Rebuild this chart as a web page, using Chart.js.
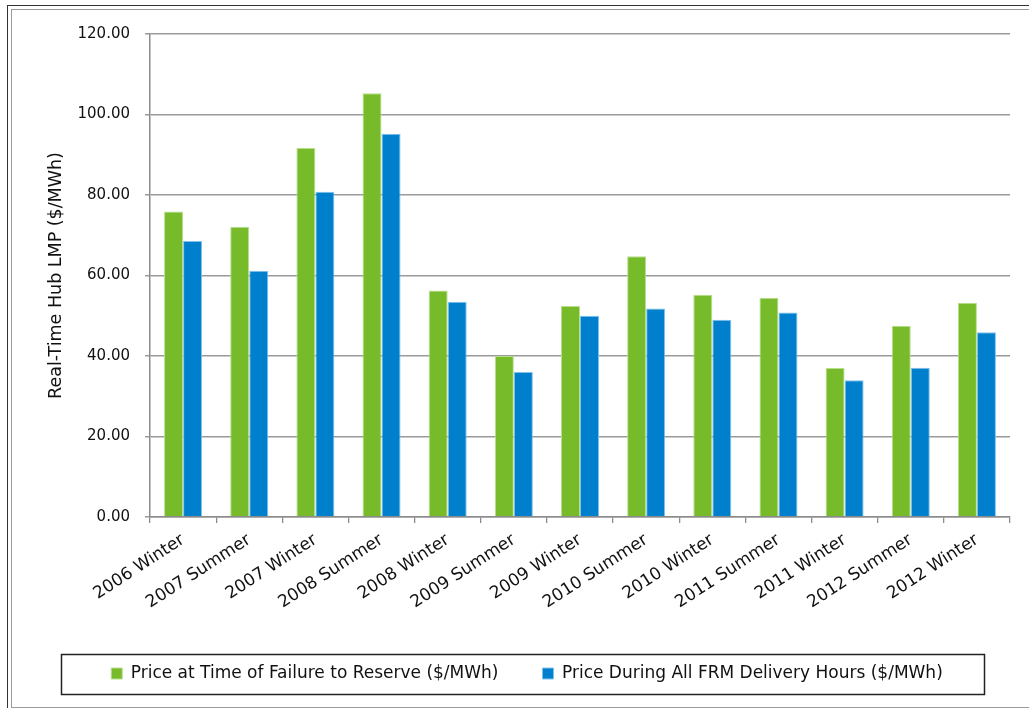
<!DOCTYPE html>
<html>
<head>
<meta charset="utf-8">
<script src="https://cdn.jsdelivr.net/npm/chart.js@4"></script>
<style>
  html, body { margin: 0; padding: 0; background: #fff; overflow: hidden; }
  #frameOuter { position: absolute; left: 7px; top: 5px; width: 1100px; height: 800px;
                border-left: 1px solid #333; border-top: 1px solid #333; }
  #frameInner { position: absolute; left: 11px; top: 9px; width: 1100px; height: 697px;
                border: 1px solid #9a9a9a; border-right: none; }
  #wrap { position: absolute; left: 0; top: 0; width: 1029px; height: 708px; }
</style>
</head>
<body>
<div id="frameOuter"></div>
<div id="frameInner"></div>
<div id="wrap"><canvas id="c" width="1029" height="708"></canvas></div>
<script>
const categories = ['2006 Winter', '2007 Summer', '2007 Winter', '2008 Summer', '2008 Winter',
  '2009 Summer', '2009 Winter', '2010 Summer', '2010 Winter', '2011 Summer', '2011 Winter',
  '2012 Summer', '2012 Winter'];
const failurePrice = [75.9, 72.1, 91.7, 105.3, 56.3, 40.0, 52.4, 64.8, 55.2, 54.5, 37.0, 47.5, 53.2];
const deliveryPrice = [68.6, 61.2, 80.8, 95.2, 53.5, 36.0, 50.0, 51.8, 49.0, 50.8, 34.0, 37.1, 45.9];
const seriesNames = ['Price at Time of Failure to Reserve ($/MWh)', 'Price During All FRM Delivery Hours ($/MWh)'];
const yTitle = 'Real-Time Hub LMP ($/MWh)';

const FONT = 'DejaVu Sans';

// Box drawn around the legend row
const legendFrame = {
  id: 'legendFrame',
  afterDraw(chart) {
    const lg = chart.legend;
    if (!lg || !lg.legendHitBoxes.length) return;
    const hb = lg.legendHitBoxes;
    const cy = hb[0].top + hb[0].height / 2;
    const ctx = chart.ctx;
    ctx.save();
    ctx.strokeStyle = '#222';
    ctx.lineWidth = 1.5;
    ctx.strokeRect(61.5, Math.round(cy - 20) + 0.5, 923, 40);
    ctx.restore();
  }
};

new Chart(document.getElementById('c'), {
  type: 'bar',
  data: {
    labels: categories,
    datasets: [
      { label: seriesNames[0], data: failurePrice, backgroundColor: '#77bb2a', borderColor: '#b9de90', borderWidth: 1 },
      { label: seriesNames[1], data: deliveryPrice, backgroundColor: '#0080cc', borderColor: '#80c2ee', borderWidth: 1 }
    ]
  },
  options: {
    responsive: false,
    animation: false,
    devicePixelRatio: 1,
    layout: { padding: { top: 34, right: 19, bottom: 16, left: 44 } },
    datasets: { bar: { categoryPercentage: 0.575, barPercentage: 1.0 } },
    plugins: {
      tooltip: { enabled: false },
      legend: {
        position: 'bottom',
        labels: {
          font: { family: FONT, size: 17 },
          color: '#111',
          boxWidth: 11,
          boxHeight: 11,
          padding: 44
        }
      }
    },
    scales: {
      x: {
        afterFit(s) { s.height = 104; },
        grid: { display: true, drawOnChartArea: false, drawTicks: true, tickLength: 6, offset: true, color: '#8c8c8c', lineWidth: 1.3 },
        border: { display: true, color: '#8c8c8c', width: 1.5 },
        ticks: {
          autoSkip: false, minRotation: 33, maxRotation: 33, padding: 7,
          color: '#111', font: { family: FONT, size: 17 }
        }
      },
      y: {
        min: 0, max: 120,
        afterFit(s) { s.width = 106; },
        grid: { color: '#9a9a9a', lineWidth: 1.5, tickLength: 5, drawTicks: true },
        border: { display: true, color: '#8c8c8c', width: 1.5 },
        ticks: {
          stepSize: 20, padding: 15, color: '#111',
          font: { family: FONT, size: 15 },
          callback: v => Number(v).toFixed(2)
        },
        title: {
          display: true, text: yTitle, color: '#111',
          font: { family: FONT, size: 17.5 },
          padding: { top: 2, bottom: 0 }
        }
      }
    }
  },
  plugins: [legendFrame]
});
</script>
</body>
</html>
